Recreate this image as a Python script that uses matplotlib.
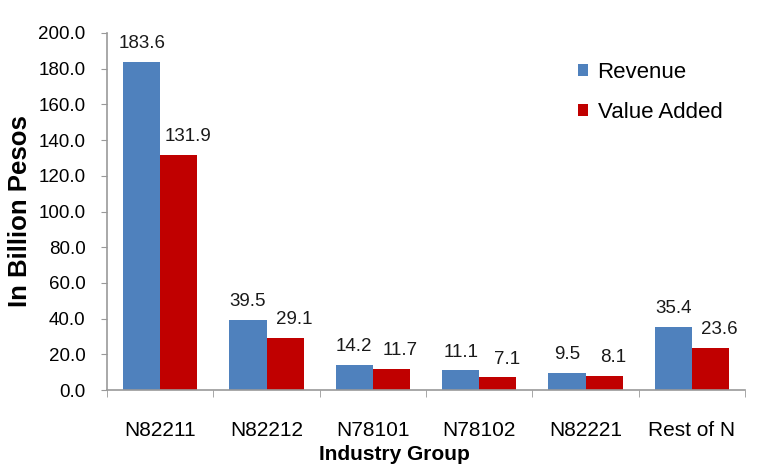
import matplotlib
matplotlib.use("Agg")
import matplotlib.pyplot as plt
import numpy as np

categories = ["N82211", "N82212", "N78101", "N78102", "N82221", "Rest of N"]
revenue = [183.6, 39.5, 14.2, 11.1, 9.5, 35.4]
value_added = [131.9, 29.1, 11.7, 7.1, 8.1, 23.6]
yticks = [0, 20, 40, 60, 80, 100, 120, 140, 160, 180, 200]

plt.rcParams['font.family'] = ['Liberation Sans', 'DejaVu Sans']

fig = plt.figure(figsize=(7.65, 4.70), dpi=100)
ax = fig.add_axes([0.140, 0.170, 0.834, 0.760])

x = np.arange(len(categories))
w = 0.35
b1 = ax.bar(x - w/2, revenue, w, color="#4F81BD", label="Revenue")
b2 = ax.bar(x + w/2, value_added, w, color="#C00000", label="Value Added")

for bars, vals, dx in ((b1, revenue, 0.0), (b2, value_added, 6.5)):
    for r, v in zip(bars, vals):
        ax.annotate(f"{v:.1f}", (r.get_x() + r.get_width()/2, v),
                    xytext=(dx, 7), textcoords="offset points",
                    ha="center", va="bottom", fontsize=13.5, color="#1a1a1a")

ax.set_xlim(-0.5, len(categories) - 0.5)
ax.set_ylim(0, 200)
ax.set_yticks(yticks)
ax.set_yticklabels([f"{t:.1f}" for t in yticks], fontsize=13.5)
ax.set_xticks(x)
ax.set_xticklabels(categories, fontsize=15)
ax.set_xticks(np.arange(len(categories) + 1) - 0.5, minor=True)
ax.tick_params(axis="x", which="major", length=0, pad=22)
ax.tick_params(axis="x", which="minor", length=5, color="#999999", direction="out")
ax.tick_params(axis="y", length=4, color="#999999", direction="out", pad=11.5)

for s in ("top", "right"):
    ax.spines[s].set_visible(False)
for s in ("left", "bottom"):
    ax.spines[s].set_color("#999999")
    ax.spines[s].set_linewidth(1.2)

ax.set_xlabel("Industry Group", fontsize=15, fontweight="bold")
ax.xaxis.set_label_coords(0.45, -0.155)
ax.set_ylabel("In Billion Pesos", fontsize=18.5, fontweight="bold")
ax.yaxis.set_label_coords(-0.118, 0.50)

ax.legend(loc="upper left", bbox_to_anchor=(0.72, 0.95), frameon=False,
          fontsize=16, handlelength=0.45, handleheight=0.45, handletextpad=0.45,
          labelspacing=0.85, borderpad=0)

fig.savefig("out.png", dpi=100)
